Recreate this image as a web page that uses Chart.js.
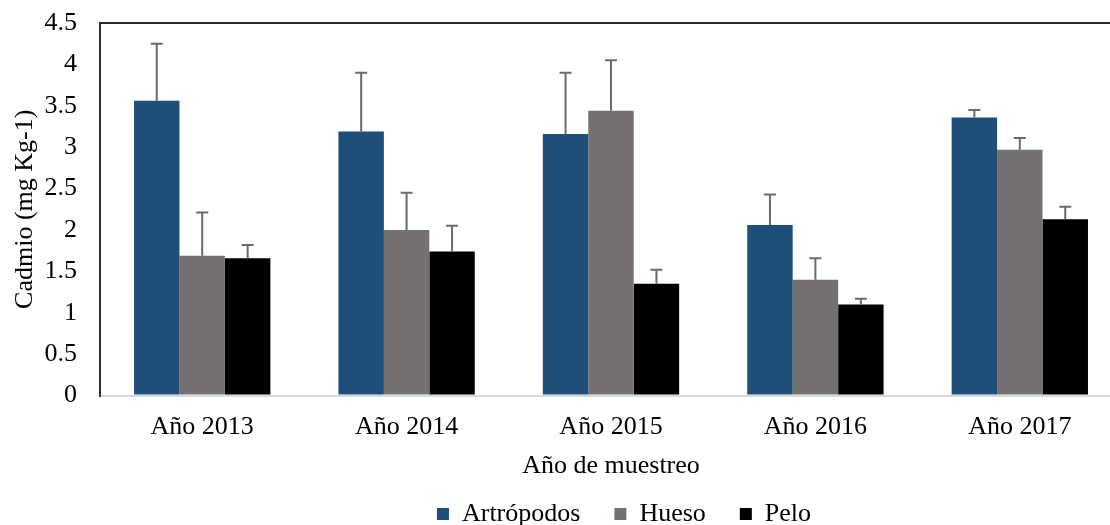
<!DOCTYPE html>
<html>
<head>
<meta charset="utf-8">
<style>
  html, body { margin: 0; padding: 0; background: #fff; overflow: hidden; }
  #wrap { width: 1122px; height: 525px; }
</style>
<script src="https://cdn.jsdelivr.net/npm/chart.js@4.4.1/dist/chart.umd.min.js"></script>
</head>
<body>
<div id="wrap"><canvas id="chart" width="1122" height="525"></canvas></div>
<script>
// Cadmio por año de muestreo (media + desviación superior)
const years = ['Año 2013', 'Año 2014', 'Año 2015', 'Año 2016', 'Año 2017'];
const seriesNames = ['Artrópodos', 'Hueso', 'Pelo'];

const artropodos = [3.56, 3.19, 3.16, 2.06, 3.36];
const hueso = [1.69, 2.00, 3.44, 1.40, 2.97];
const pelo = [1.66, 1.74, 1.35, 1.10, 2.13];

// upper error (added on top of the mean)
const artropodosErr = [0.69, 0.71, 0.74, 0.37, 0.09];
const huesoErr = [0.52, 0.45, 0.61, 0.26, 0.14];
const peloErr = [0.16, 0.31, 0.17, 0.07, 0.15];

const yMax = 4.5;
const yStep = 0.5;

const serif = "'Liberation Serif', 'Times New Roman', serif";
const legendPad = 34;

// draws the error bars from each bar top up to mean + error
const errorBars = {
    id: 'errorBars',
    afterDatasetsDraw(chart) {
        const ctx = chart.ctx;
        const yScale = chart.scales.y;
        ctx.save();
        ctx.strokeStyle = '#6b6b6b';
        ctx.lineWidth = 2;
        chart.data.datasets.forEach((ds, i) => {
            const meta = chart.getDatasetMeta(i);
            meta.data.forEach((bar, j) => {
                const yBase = yScale.getPixelForValue(ds.data[j]);
                const yTop = yScale.getPixelForValue(ds.data[j] + ds.errors[j]);
                ctx.beginPath();
                ctx.moveTo(bar.x, yBase);
                ctx.lineTo(bar.x, yTop);
                ctx.moveTo(bar.x - 6, yTop);
                ctx.lineTo(bar.x + 6, yTop);
                ctx.stroke();
            });
        });
        ctx.restore();
    }
};

// move the legend to where the original one sits
const legendShift = {
    id: 'legendShift',
    afterLayout(chart) {
        const lg = chart.legend;
        const dx = 624 - (lg.left + lg.right) / 2;
        lg.left += dx;
        lg.right += dx;
        const dy = (514 - legendPad - 13) - lg.top;
        lg.top += dy;
        lg.bottom += dy;
    }
};

const ctx = document.getElementById('chart').getContext('2d');
new Chart(ctx, {
    type: 'bar',
    data: {
        labels: years,
        datasets: [
            { label: seriesNames[0], data: artropodos, errors: artropodosErr, backgroundColor: '#1f4e79' },
            { label: seriesNames[1], data: hueso, errors: huesoErr, backgroundColor: '#767171' },
            { label: seriesNames[2], data: pelo, errors: peloErr, backgroundColor: '#000000' }
        ]
    },
    options: {
        responsive: false,
        animation: false,
        layout: { padding: { top: 23, left: 0, right: 0, bottom: -33 } },
        datasets: {
            bar: { categoryPercentage: 0.667, barPercentage: 1.0, borderWidth: 0 }
        },
        plugins: {
            tooltip: { enabled: false },
            legend: {
                position: 'bottom',
                labels: {
                    boxWidth: 12,
                    boxHeight: 12,
                    padding: legendPad,
                    color: '#000',
                    font: { family: serif, size: 26 }
                }
            }
        },
        scales: {
            x: {
                grid: { display: false },
                border: { color: '#d9d9d9', width: 2 },
                ticks: { color: '#000', padding: 8, font: { family: serif, size: 26 } },
                title: {
                    display: true,
                    text: 'Año de muestreo',
                    color: '#000',
                    padding: { top: 0, bottom: 6 },
                    font: { family: serif, size: 26 }
                }
            },
            y: {
                min: 0,
                max: yMax,
                afterFit(scale) {
                    scale.width = 100;
                    scale.paddingTop = 0;
                },
                grid: {
                    drawTicks: false,
                    lineWidth: 2,
                    color: c => (c.tick && c.tick.value === yMax ? '#2b2b2b' : 'transparent')
                },
                border: { color: '#2b2b2b', width: 2 },
                ticks: {
                    stepSize: yStep,
                    color: '#000',
                    padding: 23,
                    font: { family: serif, size: 26 },
                    callback: v => String(v)
                },
                title: {
                    display: true,
                    text: 'Cadmio (mg Kg-1)',
                    color: '#000',
                    padding: { top: 10, bottom: 0 },
                    font: { family: serif, size: 26 }
                }
            }
        }
    },
    plugins: [errorBars, legendShift]
});
</script>
</body>
</html>
